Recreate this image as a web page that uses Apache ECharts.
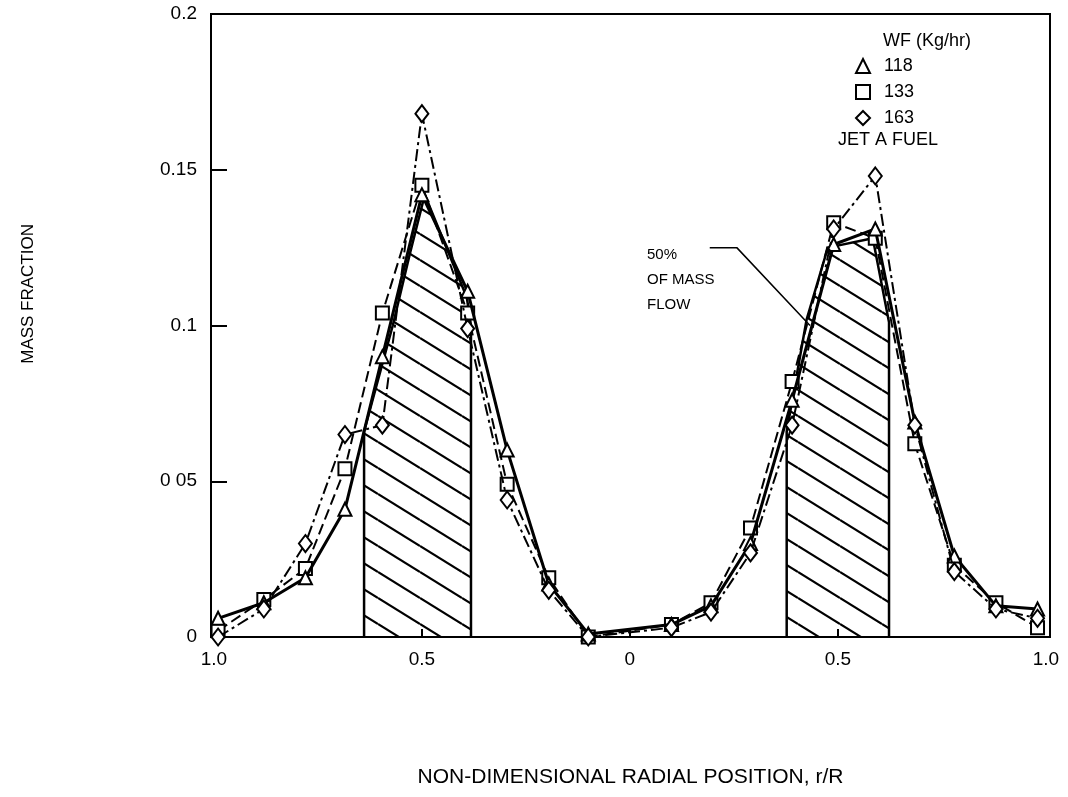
<!DOCTYPE html>
<html>
<head>
<meta charset="utf-8">
<script src="https://cdn.jsdelivr.net/npm/echarts@6/dist/echarts.min.js"></script>
<style>
  html, body { margin: 0; padding: 0; background: #fff; }
  #chart { width: 1068px; height: 797px; }
</style>
</head>
<body>
<div id="chart"></div>
<script>
// radial positions, r/R (left half shown as negative)
const radialPos = [-0.99, -0.88, -0.78, -0.685, -0.595, -0.5, -0.39, -0.295, -0.195, -0.1,
  0.1, 0.195, 0.29, 0.39, 0.49, 0.59, 0.685, 0.78, 0.88, 0.98]

// mass fraction, WF = 118 / 133 / 163 kg/hr
const wf118 = [0.006, 0.011, 0.019, 0.041, 0.090, 0.142, 0.111, 0.060, 0.017, 0.001,
  0.004, 0.010, 0.030, 0.076, 0.126, 0.131, 0.069, 0.026, 0.010, 0.009]
const wf133 = [0.002, 0.012, 0.022, 0.054, 0.104, 0.145, 0.104, 0.049, 0.019, 0.000,
  0.004, 0.011, 0.035, 0.082, 0.133, 0.128, 0.062, 0.023, 0.011, 0.003]
const wf163 = [0.000, 0.009, 0.030, 0.065, 0.068, 0.168, 0.099, 0.044, 0.015, 0.000,
  0.003, 0.008, 0.027, 0.068, 0.131, 0.148, 0.068, 0.021, 0.009, 0.006]

// outlines of the hatched "50% of mass flow" bands
const bandLeft = [[-0.639, 0], [-0.639, 0.066], [-0.570, 0.100], [-0.529, 0.123], [-0.493, 0.142],
  [-0.392, 0.109], [-0.382, 0.100], [-0.382, 0]]
const bandRight = [[0.377, 0], [0.377, 0.066], [0.425, 0.102], [0.476, 0.125], [0.584, 0.128],
  [0.623, 0.101], [0.623, 0]]
const leader = [[0.192, 0.125], [0.257, 0.125], [0.433, 0.100]]

const xTicks = [-1, -0.5, 0, 0.5, 1]
const yTickLabels = { 0: '0', 0.05: '0 05', 0.1: '0.1', 0.15: '0.15', 0.2: '0.2' }

const FONT = 'Liberation Sans, Arial, sans-serif'

function pairs(xs, ys) {
  return xs.map((x, i) => [x, ys[i]])
}

function hatchPattern() {
  const w = 42, h = 26
  const c = document.createElement('canvas')
  c.width = w
  c.height = h
  const ctx = c.getContext('2d')
  ctx.strokeStyle = '#000'
  ctx.lineWidth = 2.2
  for (let k = -1; k <= 1; k++) {
    ctx.beginPath()
    ctx.moveTo(0, k * h)
    ctx.lineTo(w, k * h + h)
    ctx.stroke()
  }
  return c
}

const hatch = { image: hatchPattern(), repeat: 'repeat' }
const markerStyle = { color: '#fff', borderColor: '#000', borderWidth: 2 }

function bandSeries(data) {
  return {
    type: 'line',
    data: data,
    symbol: 'none',
    silent: true,
    z: 1,
    lineStyle: { color: '#000', width: 2.5 },
    areaStyle: { color: hatch, opacity: 1 }
  }
}

const chart = echarts.init(document.getElementById('chart'))
chart.setOption({
  backgroundColor: '#fff',
  animation: false,
  textStyle: { fontFamily: FONT, color: '#000' },
  grid: {
    left: 211,
    right: 18,
    top: 14,
    bottom: 160,
    outerBoundsMode: 'none',
    show: true,
    borderColor: '#000',
    borderWidth: 2
  },
  legend: {
    orient: 'vertical',
    left: 855,
    top: 57,
    padding: 0,
    itemWidth: 14,
    itemHeight: 14,
    itemGap: 8,
    itemStyle: markerStyle,
    textStyle: { fontSize: 18, color: '#000', fontFamily: FONT, padding: [0, 0, 0, 9] },
    data: [
      { name: '118', icon: 'triangle' },
      { name: '133', icon: 'rect' },
      { name: '163', icon: 'diamond' }
    ]
  },
  xAxis: {
    type: 'value',
    min: -1.007,
    max: 1.01,
    name: 'NON-DIMENSIONAL RADIAL POSITION, r/R',
    nameLocation: 'middle',
    nameGap: 130,
    nameTextStyle: { fontSize: 21, color: '#000', fontFamily: FONT },
    splitLine: { show: false },
    axisLine: { lineStyle: { color: '#000', width: 2 } },
    axisTick: { inside: true, length: 8, customValues: [-0.5, 0, 0.5], lineStyle: { color: '#000', width: 2 } },
    axisLabel: {
      customValues: xTicks,
      fontSize: 19,
      color: '#000',
      margin: 13,
      formatter: v => (v === 0 ? '0' : Math.abs(v).toFixed(1))
    }
  },
  yAxis: {
    type: 'value',
    min: 0,
    max: 0.2,
    interval: 0.05,
    splitLine: { show: false },
    axisLine: { onZero: false, lineStyle: { color: '#000', width: 2 } },
    axisTick: { inside: true, length: 16, lineStyle: { color: '#000', width: 2 } },
    axisLabel: {
      fontSize: 19,
      color: '#000',
      margin: 14,
      formatter: v => yTickLabels[Math.round(v * 100) / 100]
    }
  },
  graphic: [
    { type: 'text', left: 20, top: 224, rotation: Math.PI / 2, style: { text: 'MASS FRACTION', font: '17px ' + FONT, fill: '#000' } },
    { type: 'text', left: 883, top: 32, style: { text: 'WF (Kg/hr)', font: '18px ' + FONT, fill: '#000' } },
    { type: 'text', left: 838, top: 131, style: { text: 'JET A FUEL', font: '18px ' + FONT, fill: '#000' } },
    { type: 'text', left: 647, top: 242, style: { text: '50%\nOF MASS\nFLOW', font: '15px ' + FONT, fill: '#000', lineHeight: 25 } }
  ],
  series: [
    bandSeries(bandLeft),
    bandSeries(bandRight),
    {
      type: 'line',
      data: leader,
      symbol: 'none',
      silent: true,
      z: 2,
      lineStyle: { color: '#000', width: 1.5 }
    },
    {
      name: '118',
      type: 'line',
      data: pairs(radialPos, wf118),
      symbol: 'triangle',
      symbolSize: 13,
      clip: false,
      z: 4,
      itemStyle: markerStyle,
      lineStyle: { color: '#000', width: 3 }
    },
    {
      name: '133',
      type: 'line',
      data: pairs(radialPos, wf133),
      symbol: 'rect',
      symbolSize: 13,
      clip: false,
      z: 3,
      itemStyle: markerStyle,
      lineStyle: { color: '#000', width: 2, type: [11, 5] }
    },
    {
      name: '163',
      type: 'line',
      data: pairs(radialPos, wf163),
      symbol: 'diamond',
      symbolSize: [13, 17],
      clip: false,
      z: 5,
      itemStyle: markerStyle,
      lineStyle: { color: '#000', width: 2, type: [12, 4, 3, 4] }
    }
  ]
})
</script>
</body>
</html>
